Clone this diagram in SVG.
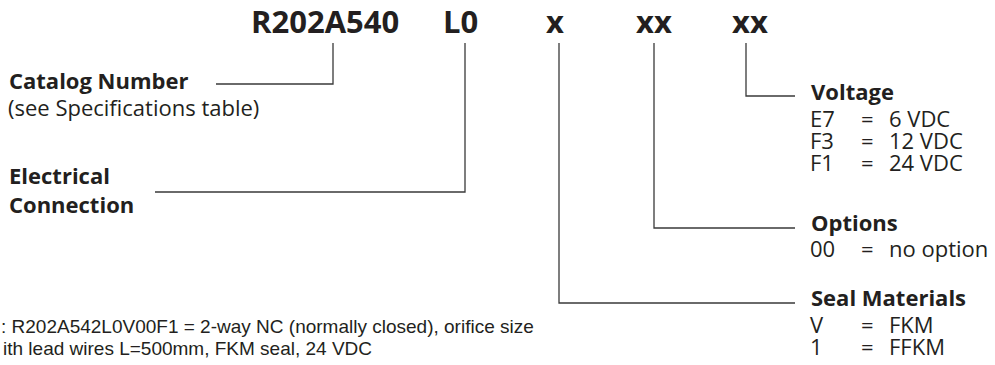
<svg xmlns="http://www.w3.org/2000/svg" width="995" height="365" viewBox="0 0 995 365">
<style>
text{fill:#231f20;font-family:"Open Sans","Noto Sans","DejaVu Sans",sans-serif}
.code{font-size:31px;font-weight:bold}
.h{font-size:22px;font-weight:bold}
.r{font-size:22px}
.note{font-family:"Liberation Sans",Arial,sans-serif;font-size:19px}
.ln{fill:none;stroke:#3a3a3a;stroke-width:1.3}
</style>
<rect width="995" height="365" fill="#fff"/>
<g id="code">
<text class="code" x="251" y="33">R202A540</text>
<text class="code" x="443" y="33">L0</text>
<text class="code" x="546" y="33">x</text>
<text class="code" x="636" y="33">xx</text>
<text class="code" x="732" y="33">xx</text>
</g>
<g id="connectors">
<polyline class="ln" points="216,84 333,84 333,43"/>
<polyline class="ln" points="155,192 465,192 465,43"/>
<polyline class="ln" points="559,43 559,303 795,303"/>
<polyline class="ln" points="654,43 654,228 795,228"/>
<polyline class="ln" points="746,43 746,96 795,96"/>
</g>
<g id="catalog">
<text class="h" x="9" y="89">Catalog Number</text>
<text class="r" x="8" y="116">(see Specifications table)</text>
</g>
<g id="electrical">
<text class="h" x="9" y="184">Electrical</text>
<text class="h" x="9" y="213">Connection</text>
</g>
<g id="voltage">
<text class="h" x="811" y="100">Voltage</text>
<text class="r"><tspan x="810" y="127">E7</tspan><tspan x="861" y="127">=</tspan><tspan x="889" y="127">6 VDC</tspan><tspan x="810" y="149">F3</tspan><tspan x="861" y="149">=</tspan><tspan x="889" y="149">12 VDC</tspan><tspan x="810" y="171">F1</tspan><tspan x="861" y="171">=</tspan><tspan x="889" y="171">24 VDC</tspan></text>
</g>
<g id="options">
<text class="h" x="811" y="231">Options</text>
<text class="r"><tspan x="810" y="257">00</tspan><tspan x="861" y="257">=</tspan><tspan x="889" y="257">no option</tspan></text>
</g>
<g id="seal">
<text class="h" x="811" y="306">Seal Materials</text>
<text class="r"><tspan x="810" y="333">V</tspan><tspan x="861" y="333">=</tspan><tspan x="889" y="333">FKM</tspan><tspan x="810" y="355">1</tspan><tspan x="861" y="355">=</tspan><tspan x="889" y="355">FFKM</tspan></text>
</g>
<g id="note">
<text class="note" x="1" y="333">: R202A542L0V00F1 = 2-way NC (normally closed), orifice size</text>
<text class="note" x="3" y="355">ith lead wires L=500mm, FKM seal, 24 VDC</text>
</g>
</svg>
